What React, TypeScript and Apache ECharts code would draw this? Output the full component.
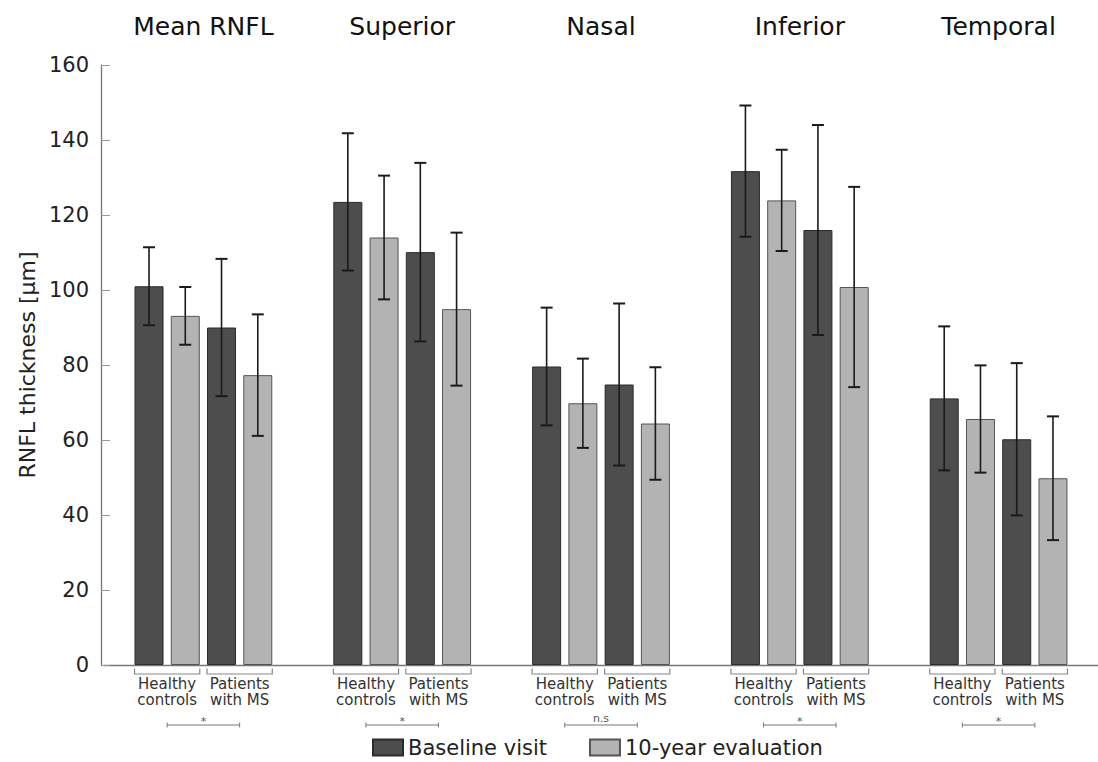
import React, { useEffect, useRef } from "react";
import * as echarts from "echarts";

const categories = ["Mean RNFL", "Superior", "Nasal", "Inferior", "Temporal"];
const groupLabels = ["Healthy\ncontrols", "Patients\nwith MS"];
const significance = ["*", "*", "n.s", "*", "*"];

const hcBaseline = [101.0, 123.5, 79.6, 131.7, 71.1];
const hcBaselineSD = [10.4, 18.3, 15.7, 17.5, 19.2];
const hcTenYear = [93.1, 114.0, 69.8, 123.9, 65.6];
const hcTenYearSD = [7.7, 16.5, 11.9, 13.5, 14.3];
const msBaseline = [90.0, 110.1, 74.8, 116.0, 60.2];
const msBaselineSD = [18.3, 23.8, 21.6, 28.0, 20.3];
const msTenYear = [77.3, 94.9, 64.4, 100.8, 49.8];
const msTenYearSD = [16.2, 20.4, 15.0, 26.7, 16.5];

const yTicks = [0, 20, 40, 60, 80, 100, 120, 140, 160];

const FONT = "'DejaVu Sans', Verdana, sans-serif";
const BAR_W = 29;
const GAP = 7.25;
const TOTAL = 4 * BAR_W + 3 * GAP;
const offsetOf = (i: number) => -TOTAL / 2 + BAR_W / 2 + i * (BAR_W + GAP);

const DARK = "#4d4d4d";
const LIGHT = "#b3b3b3";

export default function App() {
  const ref = useRef<HTMLDivElement>(null);
  useEffect(() => {
    if (!ref.current) return;
    const chart = echarts.init(ref.current, null, { renderer: "svg" });

    const means = [hcBaseline, hcTenYear, msBaseline, msTenYear];
    const sds = [hcBaselineSD, hcTenYearSD, msBaselineSD, msTenYearSD];
    const errData: number[][] = [];
    categories.forEach((_, c) => {
      for (let s = 0; s < 4; s++) {
        errData.push([c, s, means[s][c] - sds[s][c], means[s][c] + sds[s][c]]);
      }
    });

    const barSeries = means.map((arr, s) => ({
      type: "bar",
      name: s % 2 === 0 ? "Baseline visit" : "10-year evaluation",
      data: arr,
      barWidth: BAR_W,
      barGap: (GAP / BAR_W) * 100 + "%",
      xAxisIndex: 0,
      itemStyle: {
        color: s % 2 === 0 ? DARK : LIGHT,
        borderColor: s % 2 === 0 ? "#2b2b2b" : "#555555",
        borderWidth: 1,
      },
    }));

    const option: any = {
      animation: false,
      grid: { left: 104, right: -3, top: 65, bottom: 97, containLabel: false },
      legend: {
        data: ["Baseline visit", "10-year evaluation"],
        left: 372,
        top: 737,
        padding: 0,
        itemWidth: 30,
        itemHeight: 16,
        itemGap: 42,
        icon: "rect",
        textStyle: { fontSize: 21, fontFamily: FONT, color: "#222" },
      },
      xAxis: [
        {
          type: "category",
          data: categories,
          position: "bottom",
          axisLine: { show: true, lineStyle: { color: "#777", width: 1.3 } },
          axisTick: { show: false },
          axisLabel: { show: false },
          splitLine: { show: false },
        },
        {
          type: "category",
          data: categories,
          position: "top",
          axisLine: { show: false },
          axisTick: { show: false },
          axisLabel: { show: true, fontSize: 25, fontFamily: FONT, color: "#111", margin: 26 },
          splitLine: { show: false },
        },
      ],
      yAxis: {
        type: "value",
        min: 0,
        max: 160,
        interval: 20,
        offset: 3,
        name: "RNFL thickness [µm]",
        nameLocation: "middle",
        nameGap: 63,
        nameRotate: 90,
        nameTextStyle: { fontSize: 22, fontFamily: FONT, color: "#222" },
        axisLine: { show: true, lineStyle: { color: "#777", width: 1.3 } },
        axisTick: { show: true, inside: true, length: 9, lineStyle: { color: "#999", width: 1 } },
        axisLabel: {
          fontSize: 21,
          fontFamily: FONT,
          color: "#222",
          margin: 12,
          formatter: (v: number) => (yTicks.includes(v) ? String(v) : ""),
        },
        splitLine: { show: false },
      },
      series: [
        ...barSeries,
        {
          type: "custom",
          name: "errors",
          z: 5,
          clip: false,
          data: errData,
          encode: { x: 0, y: 2 },
          renderItem: (params: any, api: any) => {
            const c = api.value(0);
            const s = api.value(1);
            const lo = api.coord([c, api.value(2)]);
            const hi = api.coord([c, api.value(3)]);
            const x = lo[0] + offsetOf(s);
            const style = { stroke: "#1a1a1a", lineWidth: 1.6 };
            return {
              type: "group",
              children: [
                { type: "line", shape: { x1: x, y1: lo[1], x2: x, y2: hi[1] }, style },
                { type: "line", shape: { x1: x - 6, y1: hi[1], x2: x + 6, y2: hi[1] }, style: { ...style, lineWidth: 2 } },
                { type: "line", shape: { x1: x - 6, y1: lo[1], x2: x + 6, y2: lo[1] }, style: { ...style, lineWidth: 2 } },
              ],
            };
          },
        },
        {
          type: "custom",
          name: "groups",
          z: 5,
          clip: false,
          data: categories.map((_, i) => [i, 0]),
          renderItem: (params: any, api: any) => {
            const c = api.value(0);
            const p = api.coord([c, 0]);
            const cx = p[0];
            const y0 = p[1];
            const children: any[] = [];
            const spans = [
              [offsetOf(0) - BAR_W / 2, offsetOf(1) + BAR_W / 2],
              [offsetOf(2) - BAR_W / 2, offsetOf(3) + BAR_W / 2],
            ];
            const mids: number[] = [];
            spans.forEach(([a, b], k) => {
              const xa = cx + a;
              const xb = cx + b;
              mids.push((xa + xb) / 2);
              children.push({
                type: "polyline",
                shape: { points: [[xa, y0 + 3.5], [xa, y0 + 9], [xb, y0 + 9], [xb, y0 + 3.5]] },
                style: { stroke: "#888", lineWidth: 1.2, fill: null },
              });
              children.push({
                type: "text",
                style: {
                  text: groupLabels[k],
                  x: (xa + xb) / 2,
                  y: y0 + 11,
                  align: "center",
                  verticalAlign: "top",
                  fontSize: 15,
                  lineHeight: 16,
                  fontFamily: FONT,
                  fill: "#333",
                },
              });
            });
            const ly = y0 + 60;
            children.push({ type: "line", shape: { x1: mids[0], y1: ly, x2: mids[1], y2: ly }, style: { stroke: "#777", lineWidth: 1 } });
            children.push({ type: "line", shape: { x1: mids[0], y1: ly - 2.5, x2: mids[0], y2: ly + 2.5 }, style: { stroke: "#777", lineWidth: 1 } });
            children.push({ type: "line", shape: { x1: mids[1], y1: ly - 2.5, x2: mids[1], y2: ly + 2.5 }, style: { stroke: "#777", lineWidth: 1 } });
            const sig = significance[c];
            children.push({
              type: "text",
              style: {
                text: sig,
                x: (mids[0] + mids[1]) / 2,
                y: sig === "*" ? ly - 4 : ly - 1.5,
                align: "center",
                verticalAlign: sig === "*" ? "middle" : "bottom",
                fontSize: 11,
                fontFamily: FONT,
                fill: "#555",
              },
            });
            return { type: "group", children };
          },
        },
      ],
    };
    chart.setOption(option);
    return () => chart.dispose();
  }, []);
  return (
    <div
      ref={ref}
      style={{ position: "absolute", left: 0, top: 0, width: 1098, height: 762, background: "#fff" }}
    />
  );
}
